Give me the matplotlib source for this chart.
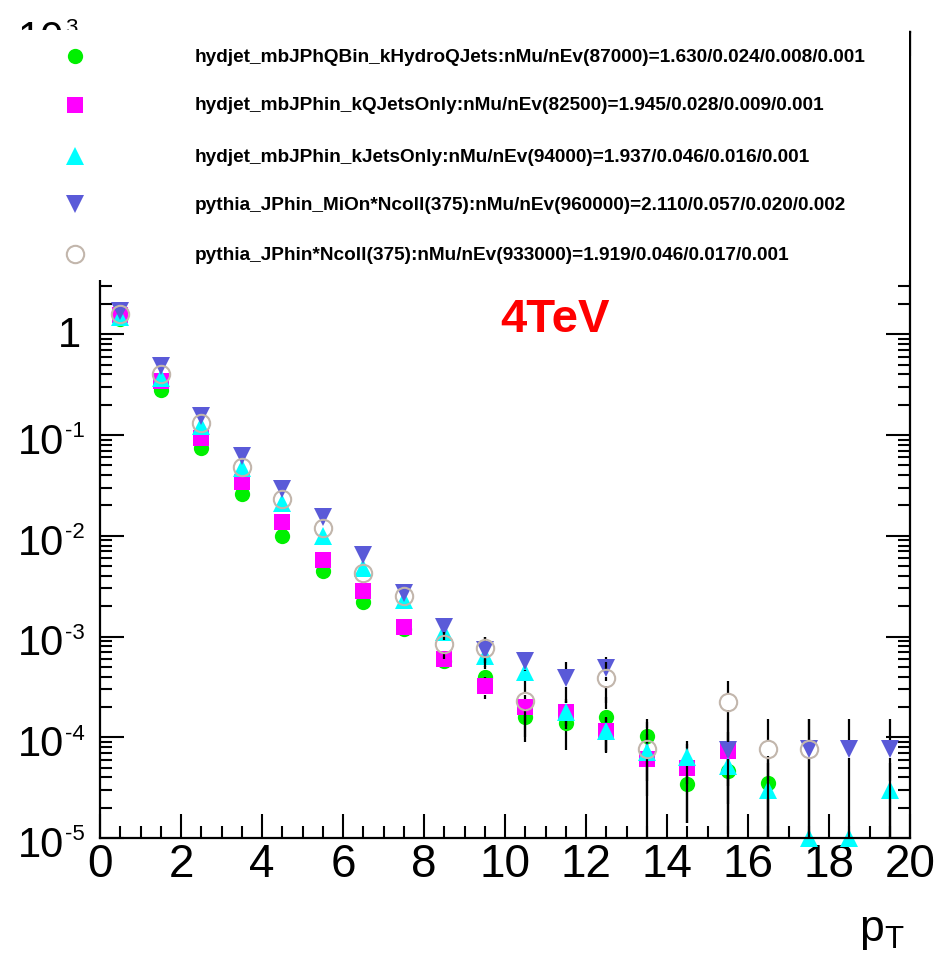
import numpy as np
import matplotlib

matplotlib.use("Agg")

import matplotlib.pyplot as plt
from matplotlib.lines import Line2D
from matplotlib.patches import Rectangle
from matplotlib.transforms import blended_transform_factory, offset_copy
from matplotlib.ticker import LogLocator, MultipleLocator, NullFormatter

plt.rcParams['font.family'] = ['Liberation Sans', 'DejaVu Sans']
plt.rcParams['mathtext.fontset'] = 'custom'
plt.rcParams['mathtext.rm'] = 'Liberation Sans'
plt.rcParams['mathtext.default'] = 'regular'

nan = np.nan

# muon pT bin centres
pt = [0.5, 1.5, 2.5, 3.5, 4.5, 5.5, 6.5, 7.5, 8.5, 9.5,
      10.5, 11.5, 12.5, 13.5, 14.5, 15.5, 16.5, 17.5, 18.5, 19.5]

hydro_q = [1.41, 0.28, 0.074, 0.026, 0.0100, 0.0045, 0.0022, 0.00118, 0.00057, 4.0e-4,
           1.6e-4, 1.4e-4, 1.6e-4, 1.03e-4, 3.4e-5, 4.6e-5, 3.5e-5, nan, nan, nan]
hydro_q_err = [0.01, 0.004, 0.0015, 0.0007, 0.0004, 0.00025, 0.00016, 0.00011, 8e-5, 1.1e-4,
               7e-5, 6.5e-5, 9e-5, 4e-5, 2e-5, 3.5e-5, 3e-5, nan, nan, nan]

qjets = [1.55, 0.34, 0.094, 0.034, 0.0137, 0.0058, 0.0028, 0.00125, 0.00060, 3.2e-4,
         2.0e-4, 1.8e-4, 1.15e-4, 6.1e-5, 5.0e-5, 7.3e-5, nan, nan, nan, nan]
qjets_err = [0.01, 0.004, 0.0017, 0.0008, 0.0005, 0.0003, 0.0002, 0.00012, 8e-5, 8e-5,
             6e-5, 6e-5, 4.4e-5, 3.5e-5, 3.6e-5, 4e-5, nan, nan, nan, nan]

jets = [1.50, 0.37, 0.124, 0.047, 0.021, 0.010, 0.0048, 0.0023, 0.00110, 6.4e-4,
        4.4e-4, 1.8e-4, 1.15e-4, 7.2e-5, 6.3e-5, 5.2e-5, 3.0e-5, 1.0e-5, 1.0e-5, 3.0e-5]
jets_err = [0.01, 0.005, 0.002, 0.001, 0.0006, 0.0004, 0.00025, 0.00017, 0.00012, 9e-5,
            7e-5, 5e-5, 4e-5, 3.5e-5, 2.9e-5, 3e-5, 2.5e-5, 0, 0, 2.5e-5]

pyth_mion = [1.70, 0.48, 0.156, 0.062, 0.029, 0.0154, 0.0065, 0.0027, 0.00123, 7.4e-4,
             5.7e-4, 3.9e-4, 4.9e-4, nan, nan, 7.5e-5, nan, 7.6e-5, 7.6e-5, 7.6e-5]
pyth_mion_err = [0.011, 0.006, 0.0034, 0.0022, 0.0015, 0.0011, 0.0007, 0.00045, 0.0003, 0.00024,
                 0.00012, 0.00017, 0.00013, nan, nan, 7.5e-5, nan, 7.6e-5, 7.6e-5, 7.6e-5]

pyth = [1.60, 0.40, 0.133, 0.048, 0.023, 0.012, 0.0043, 0.0025, 0.00085, 7.7e-4,
        2.3e-4, nan, 3.9e-4, 7.6e-5, nan, 2.25e-4, 7.6e-5, 7.6e-5, nan, nan]
pyth_err = [0.011, 0.0055, 0.0032, 0.0019, 0.0013, 0.00095, 0.00057, 0.00043, 0.00025, 0.00023,
            0.00013, nan, 0.00017, 7.6e-5, nan, 1.35e-4, 7.6e-5, 7.6e-5, nan, nan]

labels = [
    "hydjet_mbJPhQBin_kHydroQJets:nMu/nEv(87000)=1.630/0.024/0.008/0.001",
    "hydjet_mbJPhin_kQJetsOnly:nMu/nEv(82500)=1.945/0.028/0.009/0.001",
    "hydjet_mbJPhin_kJetsOnly:nMu/nEv(94000)=1.937/0.046/0.016/0.001",
    "pythia_JPhin_MiOn*Ncoll(375):nMu/nEv(960000)=2.110/0.057/0.020/0.002",
    "pythia_JPhin*Ncoll(375):nMu/nEv(933000)=1.919/0.046/0.017/0.001",
]

series = [hydro_q, qjets, jets, pyth_mion, pyth]
errors = [hydro_q_err, qjets_err, jets_err, pyth_mion_err, pyth_err]
styles = [
    dict(marker='o', ms=11, mfc='#00f000', mec='#00f000', mew=0),
    dict(marker='s', ms=12, mfc='#ff00ff', mec='#ff00ff', mew=0),
    dict(marker='^', ms=13, mfc='#00ffff', mec='#00ffff', mew=0),
    dict(marker='v', ms=13, mfc='#5a5ad8', mec='#5a5ad8', mew=0),
    dict(marker='o', ms=12.5, mfc='none', mec='#c2b6ac', mew=1.5),
]

W, H = 934, 962
fig = plt.figure(figsize=(W / 100, H / 100), dpi=100)
ax = fig.add_axes([100 / W, 1 - 839 / H, 810 / W, (839 - 33) / H])
ax.set_yscale('log')
ax.set_xlim(0, 20)
ax.set_ylim(1e-5, 1e3)

# error bars stop at the marker edge, like ROOT's "E" option
px_per_decade = ax.get_position().height * H / 8.0
for vals, errs, st in zip(series, errors, styles):
    gap = 10 ** ((st['ms'] / 2 * 100 / 72) / px_per_decade)
    xs, lo, hi = [], [], []
    for x, v, e in zip(pt, vals, errs):
        if np.isnan(v) or np.isnan(e) or e <= 0:
            continue
        if v + e > v * gap:
            xs.append(x); lo.append(v * gap); hi.append(v + e)
        if v - e < v / gap:
            xs.append(x); lo.append(max(v - e, 1e-9)); hi.append(v / gap)
    ax.vlines(xs, lo, hi, color='black', linewidth=1.6)
    ax.plot(pt, vals, linestyle='none', clip_on=False, **st)

ax.xaxis.set_major_locator(MultipleLocator(2))
ax.xaxis.set_minor_locator(MultipleLocator(0.5))
ax.yaxis.set_major_locator(LogLocator(base=10, numticks=20))
ax.yaxis.set_minor_locator(LogLocator(base=10, subs=np.arange(2, 10), numticks=20))
ax.yaxis.set_major_formatter(NullFormatter())
ax.yaxis.set_minor_formatter(NullFormatter())

ax.tick_params(which='both', direction='in', top=True, right=True, width=1.5, color='black')
ax.tick_params(which='major', length=17)
ax.tick_params(which='minor', length=8.5)
ax.tick_params(axis='x', which='major', labelsize=33, pad=3)
for s in ax.spines.values():
    s.set_linewidth(1.6)

# decade labels: "10" with a small raised exponent
ytr = blended_transform_factory(fig.transFigure, ax.transData)
for e in range(-5, 4):
    v = 10.0 ** e
    if e == 0:
        ax.text(81 / W, v, '1', transform=offset_copy(ytr, fig=fig, y=-1, units='dots'),
                fontsize=30, ha='right', va='center', clip_on=False)
        continue
    ax.text(64 / W, v, '10', transform=offset_copy(ytr, fig=fig, y=-7, units='dots'),
            fontsize=30, ha='right', va='center', clip_on=False)
    ax.text(65 / W, v, str(e), transform=offset_copy(ytr, fig=fig, y=4, units='dots'),
            fontsize=16, ha='left', va='center', clip_on=False)

fig.text(555 / W, 1 - 320 / H, '4TeV', color='red',
         fontsize=34, fontweight='bold', ha='center', va='center')
fig.text(905 / W, 1 - 932 / H, r'$p_{T}$', fontsize=32, ha='right', va='center')

# legend panel sits on top of the upper part of the frame
fig.add_artist(Rectangle((0, 1 - 281 / H), 908.8 / W, (281 - 31) / H,
                         transform=fig.transFigure, facecolor='white',
                         edgecolor='none', zorder=5))
rows_y = [57, 106, 157, 205, 255]
for lab, st, y in zip(labels, styles, rows_y):
    fig.add_artist(Line2D([75 / W], [1 - y / H], transform=fig.transFigure,
                          linestyle='none', zorder=6, **st))
    fig.text(195 / W, 1 - y / H, lab, fontsize=13.65, fontweight='bold',
             ha='left', va='center', zorder=6)

fig.savefig("out.png", dpi=100)
